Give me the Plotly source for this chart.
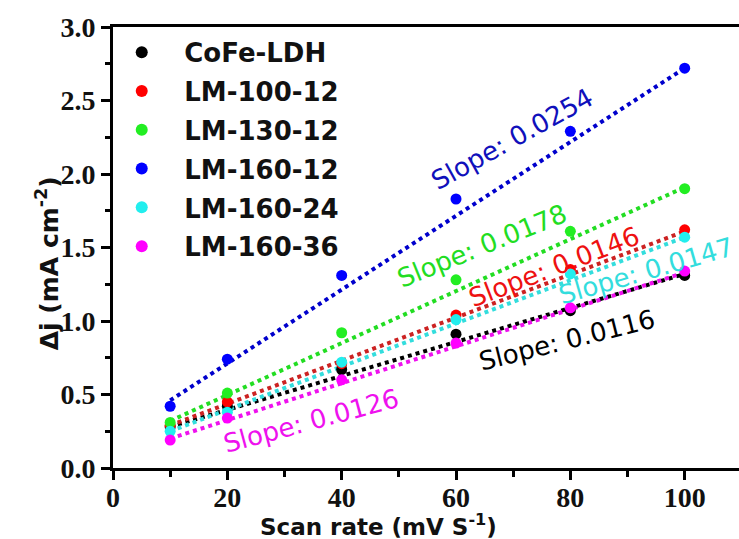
import plotly.graph_objects as go

scan_rate = [10, 20, 40, 60, 80, 100]
names = ["CoFe-LDH", "LM-100-12", "LM-130-12", "LM-160-12", "LM-160-24", "LM-160-36"]
cofe_ldh = [0.28, 0.42, 0.67, 0.91, 1.07, 1.31]
lm_100_12 = [0.29, 0.45, 0.71, 1.04, 1.35, 1.62]
lm_130_12 = [0.31, 0.51, 0.92, 1.28, 1.61, 1.90]
lm_160_12 = [0.42, 0.74, 1.31, 1.83, 2.29, 2.72]
lm_160_24 = [0.25, 0.38, 0.72, 1.01, 1.32, 1.57]
lm_160_36 = [0.19, 0.34, 0.60, 0.85, 1.09, 1.34]
series = [cofe_ldh, lm_100_12, lm_130_12, lm_160_12, lm_160_24, lm_160_36]

# linear-fit lines (value at x=10 and x=100)
fit_x = [10, 100]
fit_start = [0.28, 0.29, 0.32, 0.46, 0.25, 0.20]
fit_end = [1.32, 1.61, 1.91, 2.72, 1.57, 1.33]

slope_labels = ["Slope: 0.0116", "Slope: 0.0146", "Slope: 0.0178",
                "Slope: 0.0254", "Slope: 0.0147", "Slope: 0.0126"]
# annotation centre (data coords) and angle
label_x = [79.5, 77.1, 64.5, 69.8, 93.2, 34.6]
label_y = [0.87, 1.37, 1.51, 2.24, 1.34, 0.32]
label_angle = [-14, -21, -22, -29, -16, -15]

marker_colors = ["#000000", "#ff0000", "#22ee22", "#0000ff", "#22eeee", "#ff00ff"]
line_colors = ["#000000", "#cc2222", "#22dd22", "#0000cc", "#33dddd", "#ee11ee"]
label_colors = ["#000000", "#ee1111", "#22dd22", "#1010bb", "#33dddd", "#ee11ee"]

TXT = "#111111"
SANS = "DejaVu Sans, Arial"
SERIF = "Liberation Serif, Times New Roman"

fig = go.Figure()
for i in range(len(names)):
    fig.add_trace(go.Scatter(x=fit_x, y=[fit_start[i], fit_end[i]], mode="lines",
                             line=dict(color=line_colors[i], width=4, dash="4px,4px"),
                             showlegend=False, hoverinfo="skip"))
for i, (nm, ys) in enumerate(zip(names, series)):
    fig.add_trace(go.Scatter(x=scan_rate, y=ys, mode="markers", name=nm,
                             legendgroup=nm,
                             marker=dict(color=marker_colors[i], size=11, symbol="circle")))

for i in range(len(names)):
    fig.add_annotation(x=label_x[i], y=label_y[i], xref="x", yref="y",
                       text=slope_labels[i], showarrow=False, textangle=label_angle[i],
                       font=dict(family=SANS, size=26, color=label_colors[i]))

# axis titles placed as annotations
fig.add_annotation(x=(378 - 113) / 626, y=-0.13, xref="paper", yref="paper",
                   xanchor="center", yanchor="middle", showarrow=False,
                   text="Scan rate (mV S<sup>-1</sup>)",
                   font=dict(family=SANS, size=23, color=TXT, weight="bold"))
fig.add_annotation(x=-0.105, y=(468 - 263) / 441, xref="paper", yref="paper",
                   xanchor="center", yanchor="middle", showarrow=False, textangle=-90,
                   text="Δj (mA cm<sup>-2</sup>)",
                   font=dict(family=SANS, size=25, color=TXT, weight="bold"))

fig.update_layout(
    width=739, height=539,
    margin=dict(l=113, r=0, t=27, b=71),
    paper_bgcolor="white", plot_bgcolor="white",
    showlegend=True,
    legend=dict(x=-0.022, y=0.996, xanchor="left", yanchor="top",
                bgcolor="rgba(0,0,0,0)", tracegroupgap=2, itemwidth=75,
                font=dict(family=SANS, size=26, color=TXT, weight="bold"),
                itemsizing="constant"),
    xaxis=dict(range=[0, 109.5], tickmode="array", tickvals=[0, 20, 40, 60, 80, 100],
               ticks="outside", ticklen=9, tickwidth=3, tickcolor="black",
               ticklabelstandoff=-7,
               minor=dict(tickvals=[10, 30, 50, 70, 90], ticks="outside", ticklen=6,
                          tickwidth=3, tickcolor="black"),
               showline=True, linewidth=3, linecolor="black", mirror=True,
               showgrid=False, zeroline=False,
               tickfont=dict(family=SERIF, size=28, color=TXT, weight="bold")),
    yaxis=dict(range=[0, 3.0], tickmode="array", tickvals=[0, 0.5, 1.0, 1.5, 2.0, 2.5, 3.0],
               ticktext=["0.0", "0.5", "1.0", "1.5", "2.0", "2.5", "3.0"],
               ticks="outside", ticklen=9, tickwidth=3, tickcolor="black",
               minor=dict(tickvals=[0.25, 0.75, 1.25, 1.75, 2.25, 2.75], ticks="outside",
                          ticklen=5, tickwidth=3, tickcolor="black"),
               showline=True, linewidth=3, linecolor="black", mirror=False,
               showgrid=False, zeroline=False,
               tickfont=dict(family=SERIF, size=28, color=TXT, weight="bold")),
)

fig.write_html("out.html")
